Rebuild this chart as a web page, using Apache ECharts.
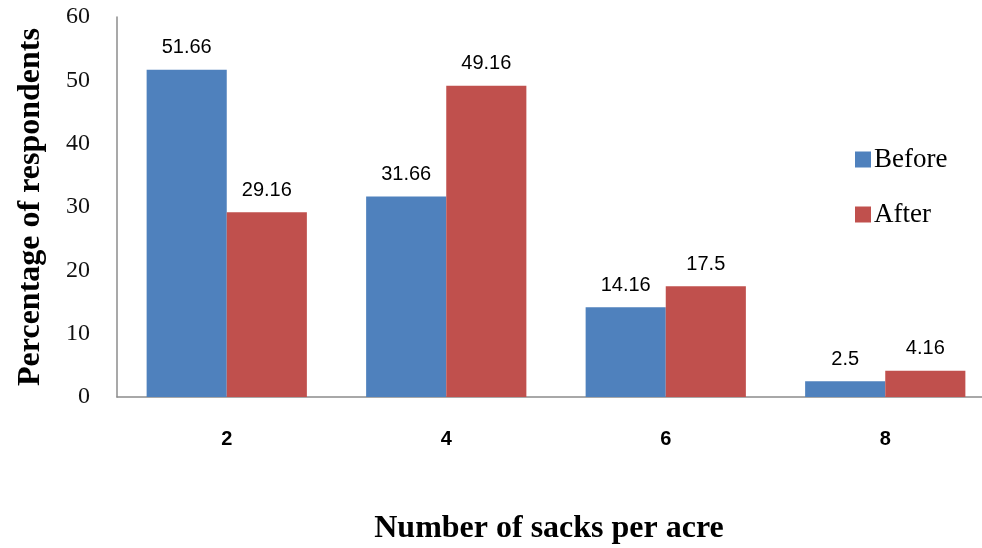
<!DOCTYPE html>
<html>
<head>
<meta charset="utf-8">
<script src="https://cdn.jsdelivr.net/npm/echarts@6/dist/echarts.min.js"></script>
<style>
  html, body { margin: 0; padding: 0; background: #fff; }
  #chart { width: 982px; height: 548px; }
</style>
</head>
<body>
<div id="chart"></div>
<script>
// Sacks per acre and share of respondents before / after
const categories = ['2', '4', '6', '8'];
const beforeValues = [51.66, 31.66, 14.16, 2.5];
const afterValues = [29.16, 49.16, 17.5, 4.16];
const yTicks = { min: 0, max: 60, interval: 10 };

const chart = echarts.init(document.getElementById('chart'));

const labelStyle = {
  show: true,
  position: 'top',
  distance: 12,
  color: '#000',
  fontFamily: 'Liberation Sans, Arial, sans-serif',
  fontSize: 20
};

chart.setOption({
  animation: false,
  backgroundColor: '#fff',
  grid: {
    left: 117, right: -13, top: 17, bottom: 151,
    containLabel: false,
    outerBoundsMode: 'none'
  },
  title: {
    text: 'Number of sacks per acre',
    left: 544,
    top: 508,
    textAlign: 'center',
    textStyle: {
      fontFamily: 'Liberation Serif, Times New Roman, serif',
      fontWeight: 'bold',
      fontSize: 32,
      color: '#000'
    }
  },
  legend: {
    orient: 'vertical',
    left: 850,
    top: 141,
    itemWidth: 16,
    itemHeight: 16,
    itemGap: 28,
    icon: 'rect',
    data: ['Before', 'After'],
    textStyle: {
      fontFamily: 'Liberation Serif, Times New Roman, serif',
      fontSize: 27,
      color: '#000',
      padding: [0, 0, 0, -2]
    }
  },
  xAxis: {
    type: 'category',
    data: categories,
    axisLine: { lineStyle: { color: '#8c8c8c', width: 1.5 } },
    axisTick: { show: false },
    axisLabel: {
      margin: 32,
      color: '#000',
      fontFamily: 'Liberation Sans, Arial, sans-serif',
      fontWeight: 'bold',
      fontSize: 20
    }
  },
  yAxis: {
    type: 'value',
    min: yTicks.min,
    max: yTicks.max,
    interval: yTicks.interval,
    name: 'Percentage of respondents',
    nameLocation: 'middle',
    nameGap: 70,
    nameTextStyle: {
      fontFamily: 'Liberation Serif, Times New Roman, serif',
      fontWeight: 'bold',
      fontSize: 32,
      color: '#000'
    },
    axisLine: { show: true, lineStyle: { color: '#8c8c8c', width: 1.5 } },
    axisTick: { show: false },
    splitLine: { show: false },
    axisLabel: {
      margin: 27,
      color: '#111',
      fontFamily: 'Liberation Serif, Times New Roman, serif',
      fontSize: 24
    }
  },
  series: [
    {
      name: 'Before',
      type: 'bar',
      data: beforeValues,
      barGap: '0%',
      barCategoryGap: '27%',
      itemStyle: { color: '#4F81BD' },
      label: labelStyle
    },
    {
      name: 'After',
      type: 'bar',
      data: afterValues,
      itemStyle: { color: '#C0504D' },
      label: labelStyle
    }
  ]
});
</script>
</body>
</html>
